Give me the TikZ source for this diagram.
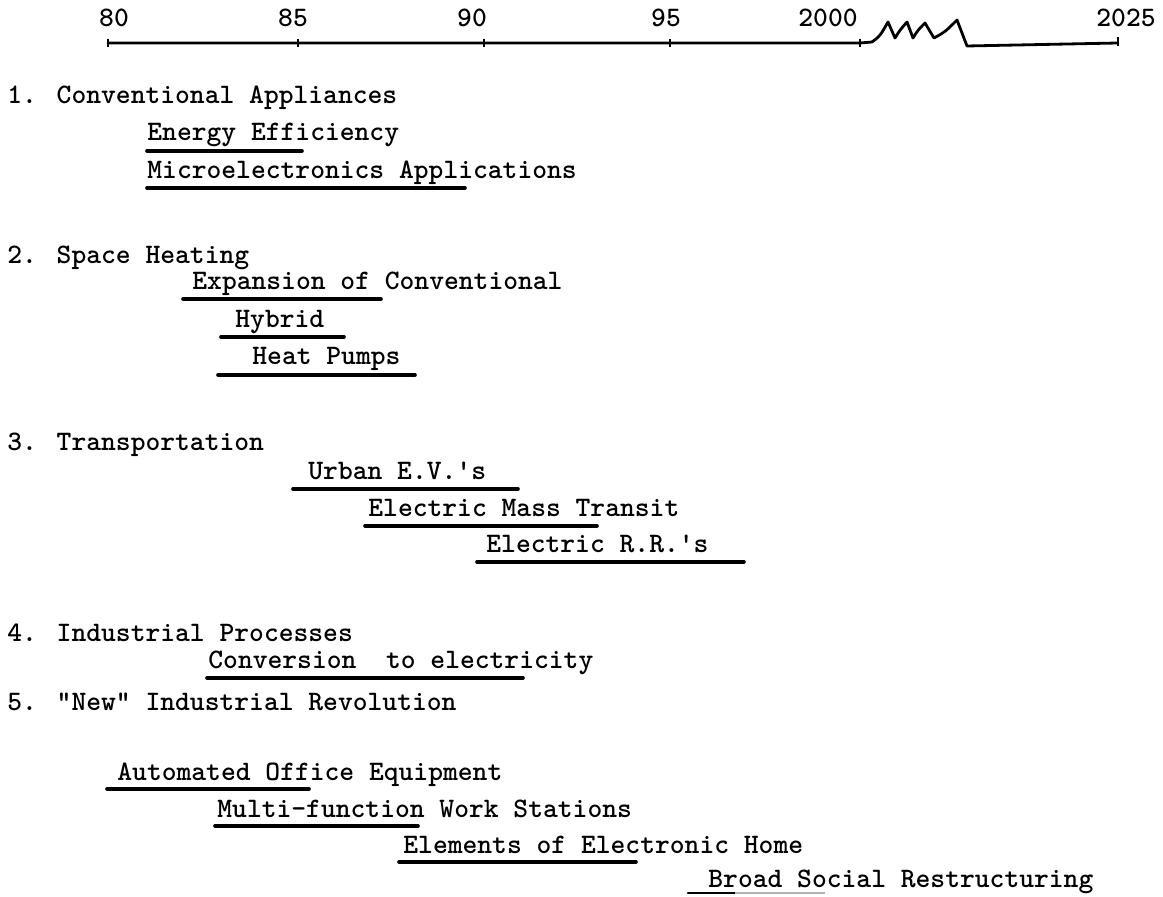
\documentclass[tikz,border=0pt]{standalone}
\begin{document}
\begin{tikzpicture}[x=0.5pt,y=-0.5pt,
    every node/.style={font=\fontsize{14.1}{16}\selectfont\ttfamily\bfseries, inner sep=0pt},
    item/.style={anchor=base west},
    bar/.style={line width=1.8pt, line cap=round},
    tick/.style={line width=1pt}]
    \useasboundingbox (0,0) rectangle (1163,897);
    % time axis, broken between 2000 and 2025
    \draw[line width=1.4pt, line join=round, line cap=round] (108,43) -- (860,43) -- (872,42)
        .. controls (880,36) .. (888,22) -- (895,38)
        .. controls (900,30) .. (907,22) -- (913,38)
        .. controls (918,30) .. (925,23) -- (934,38)
        .. controls (945,32) .. (957,20) -- (967,46) -- (1118,43);
    \foreach \x in {108,298,484,670,860}
        \draw[tick] (\x,39) -- (\x,47);
    \draw[tick] (1118,37) -- (1118,46);
    \node (y80) at (114,18) {80};
    \node (y85) at (293,18) {85};
    \node (y90) at (472,18) {90};
    \node (y95) at (666,18) {95};
    \node (y00) at (828,18) {2000};
    \node (y25) at (1126,18) {2025};
    % 1
    \node[item] (appl) at (7,104) {1. Conventional Appliances};
    \node[item] (eff) at (147,141) {Energy Efficiency};
    \draw[bar] (147,151) -- (302,151);
    \node[item] (micro) at (147,179) {Microelectronics Applications};
    \draw[bar] (147,188) -- (465,188);
    % 2
    \node[item] (heat) at (7,264) {2. Space Heating};
    \node[item] (conv) at (192,290) {Expansion of Conventional};
    \draw[bar] (183,299) -- (381,299);
    \node[item] (hyb) at (235,328) {Hybrid};
    \draw[bar] (221,337) -- (344,337);
    \node[item] (pump) at (252,365) {Heat Pumps};
    \draw[bar] (218,375) -- (415,375);
    % 3
    \node[item] (trans) at (7,451) {3. Transportation};
    \node[item] (ev) at (308,480) {Urban E.V.'s};
    \draw[bar] (293,489) -- (518,489);
    \node[item] (mass) at (368,517) {Electric Mass Transit};
    \draw[bar] (365,526) -- (597,526);
    \node[item] (rr) at (486,553) {Electric R.R.'s};
    \draw[bar] (477,562) -- (744,562);
    % 4
    \node[item] (ind) at (7,642) {4. Industrial Processes};
    \node[item] (elec) at (208,669) {Conversion\ \ to electricity};
    \draw[bar] (207,678) -- (523,678);
    % 5
    \node[item] (rev) at (7,711) {5. "New" Industrial Revolution};
    \node[item] (office) at (117,781) {Automated Office Equipment};
    \draw[bar] (107,789) -- (309,789);
    \node[item] (work) at (217,818) {Multi-function Work Stations};
    \draw[bar] (215,826) -- (418,826);
    \node[item] (home) at (403,854) {Elements of Electronic Home};
    \draw[bar] (399,862) -- (636,862);
    \node[item] (social) at (708,888) {Broad Social Restructuring};
    \draw[bar, line width=1.2pt] (688,893) -- (735,893);
    \draw[line width=0.8pt, gray!60] (735,893) -- (825,893);
\end{tikzpicture}
\end{document}
